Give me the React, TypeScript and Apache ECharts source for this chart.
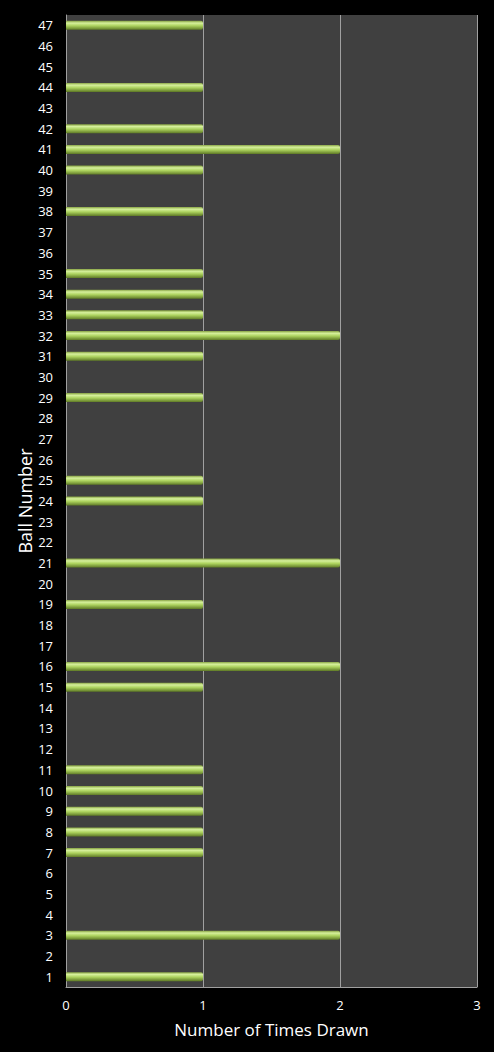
import { useEffect, useRef } from 'react';
import * as echarts from 'echarts';

const ballNumbers = Array.from({ length: 47 }, (_, i) => String(i + 1));

// times drawn for balls 1..47
const timesDrawn = [
  1, 0, 2, 0, 0, 0, 1, 1, 1, 1,
  1, 0, 0, 0, 1, 2, 0, 0, 1, 0,
  2, 0, 0, 1, 1, 0, 0, 0, 1, 0,
  1, 2, 1, 1, 1, 0, 0, 1, 0, 1,
  2, 1, 0, 1, 0, 0, 1,
];

const xTicks = [0, 1, 2, 3];

export default function App() {
  const chartRef = useRef<HTMLDivElement>(null);

  useEffect(() => {
    if (!chartRef.current) return;
    document.body.style.margin = '0';
    document.body.style.background = '#000';

    const chart = echarts.init(chartRef.current, null, { renderer: 'svg' });
    const font = '"Open Sans", sans-serif';

    const option = {
      animation: false,
      backgroundColor: '#000000',
      grid: {
        left: 66,
        right: 17,
        top: 15,
        bottom: 65,
        containLabel: false,
        show: true,
        backgroundColor: '#404040',
        borderWidth: 0,
      },
      xAxis: {
        type: 'value',
        min: xTicks[0],
        max: xTicks[xTicks.length - 1],
        interval: 1,
        name: 'Number of Times Drawn',
        nameLocation: 'middle',
        nameGap: 34,
        nameTextStyle: { color: '#ffffff', fontSize: 17, fontFamily: font },
        axisLine: { show: true, lineStyle: { color: '#a0a0a0', width: 1 } },
        axisTick: { show: false },
        axisLabel: { color: '#ffffff', fontSize: 13, fontFamily: font, margin: 11 },
        splitLine: { show: true, lineStyle: { color: '#a0a0a0', width: 1 } },
      },
      yAxis: {
        type: 'category',
        data: ballNumbers,
        name: 'Ball Number',
        nameLocation: 'middle',
        nameGap: 32,
        nameMoveOverlap: false,
        nameTextStyle: { color: '#ffffff', fontSize: 18, fontFamily: font },
        axisLine: { show: true, lineStyle: { color: '#a0a0a0' } },
        axisTick: { show: false },
        axisLabel: { color: '#ffffff', fontSize: 13, fontFamily: font, margin: 13, interval: 0 },
        splitLine: { show: false },
      },
      series: [
        {
          type: 'bar',
          data: timesDrawn,
          barWidth: 9,
          itemStyle: {
            color: new echarts.graphic.LinearGradient(0, 0, 0, 1, [
              { offset: 0, color: '#86a242' },
              { offset: 0.25, color: '#d6f09c' },
              { offset: 0.55, color: '#acd25e' },
              { offset: 1, color: '#5f7a26' },
            ]),
            borderWidth: 0,
            borderRadius: [0, 2, 2, 0],
          },
        },
      ],
    };

    chart.setOption(option);

    return () => {
      chart.dispose();
    };
  }, []);

  return <div ref={chartRef} style={{ width: 494, height: 1052 }} />;
}
